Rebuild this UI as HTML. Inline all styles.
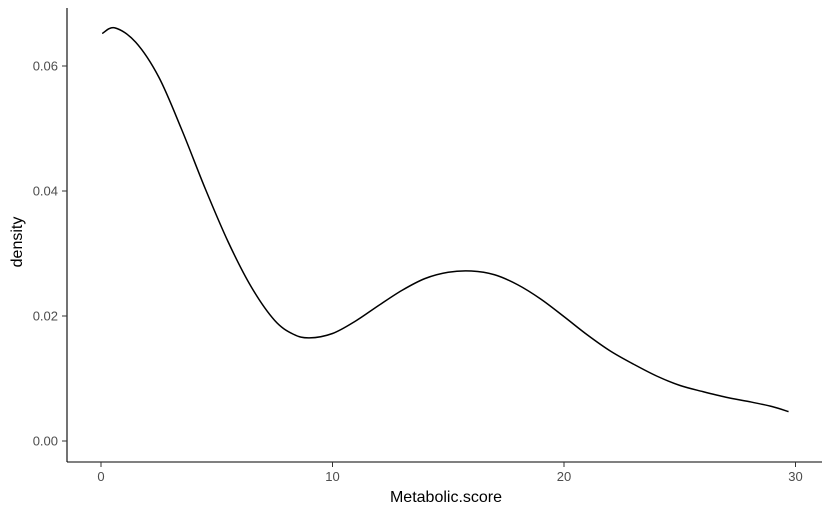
<!DOCTYPE html>
<html><head><meta charset="utf-8"><style>
body{margin:0;background:#fff;}
svg{display:block;font-family:"Liberation Sans",Arial,sans-serif;}
</style></head><body>
<svg id="chart" width="832" height="514">
<g id="axes"></g>
<path id="curve" fill="none" stroke="#000" stroke-width="1.5"></path>
<text x="446" y="502" text-anchor="middle" font-size="16">Metabolic.score</text>
<text transform="translate(22,242) rotate(-90)" text-anchor="middle" font-size="16">density</text>
</svg>
<script>
const xValues=[0.05,0.6,1.5,2.5,3.5,4.5,5.5,6.5,7.5,8.3,9.0,10,11,12,13,14,15,16,17,18,19,20,21,22,23,24,25,26,27,28,29,29.7];
const densityValues=[0.0652,0.0661,0.0638,0.0582,0.0497,0.0404,0.0318,0.0246,0.0193,0.0171,0.0165,0.0172,0.0192,0.0217,0.0241,0.0260,0.0270,0.0272,0.0266,0.0250,0.0227,0.0199,0.0170,0.0144,0.0123,0.0104,0.0089,0.0079,0.0070,0.0063,0.0055,0.0047];
const xTicks=[0,10,20,30];
const yTicks=[0,0.02,0.04,0.06];
const yTickLabels=["0.00","0.02","0.04","0.06"];
const sx=v=>101+v*23.15;
const sy=v=>441-v*6250;
const ns="http://www.w3.org/2000/svg";
const axes=document.getElementById('axes');
function mk(tag,attrs){const e=document.createElementNS(ns,tag);for(const k in attrs)e.setAttribute(k,attrs[k]);axes.appendChild(e);return e;}
let yl=mk('line',{x1:67,y1:8,x2:67,y2:462,stroke:'#000','stroke-width':1.1});


let xl=mk('line',{x1:67,y1:462,x2:822,y2:462,stroke:'#000','stroke-width':1.1});


xTicks.forEach(t=>{
 let l=mk('line',{x1:sx(t),x2:sx(t),y1:462,y2:467,stroke:'#333'});
 
 
 let tx=mk('text',{x:sx(t),y:481,'text-anchor':'middle','font-size':13,fill:'#4d4d4d'});
 tx.textContent=t;
 
 
});
yTicks.forEach((t,i)=>{
 let l=mk('line',{x1:62,x2:67,y1:sy(t),y2:sy(t),stroke:'#333'});
 
 
 let tx=mk('text',{x:58,y:sy(t)+4.5,'text-anchor':'end','font-size':13,fill:'#4d4d4d'});
 tx.textContent=yTickLabels[i];
 
 
});
const pts=xValues.map((x,i)=>[sx(x),sy(densityValues[i])]);
let d='M'+pts[0][0]+','+pts[0][1];
for(let i=0;i<pts.length-1;i++){
 const p0=pts[Math.max(0,i-1)],p1=pts[i],p2=pts[i+1],p3=pts[Math.min(pts.length-1,i+2)];
 const c1=[p1[0]+(p2[0]-p0[0])/6,p1[1]+(p2[1]-p0[1])/6];
 const c2=[p2[0]-(p3[0]-p1[0])/6,p2[1]-(p3[1]-p1[1])/6];
 d+=` C${c1[0]},${c1[1]} ${c2[0]},${c2[1]} ${p2[0]},${p2[1]}`;
}
document.getElementById('curve').setAttribute('d',d);
</script>
</body></html>
